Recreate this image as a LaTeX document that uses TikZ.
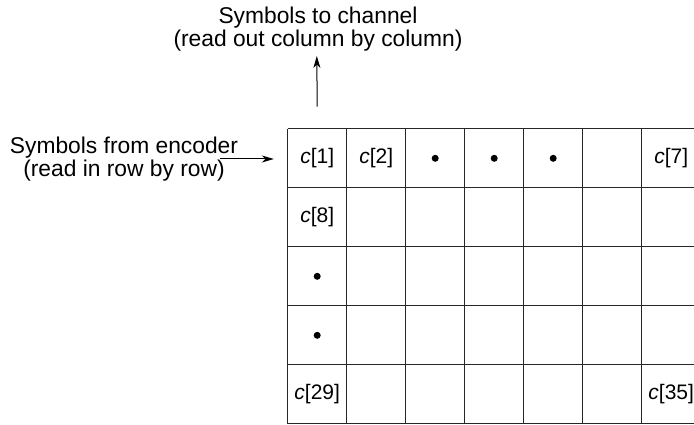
\documentclass[tikz,border=0pt]{standalone}
\usepackage{fontspec}
\setmainfont{Liberation Sans}
\usetikzlibrary{arrows.meta}
\tikzset{
  gridline/.style={line width=1.25pt, black!85},
  cell/.style={minimum width=59pt, minimum height=59pt, inner sep=0pt, font=\fontsize{21}{24}\selectfont},
  lbl/.style={align=center, inner sep=0pt, font=\fontsize{22.8}{22.5}\selectfont},
  arr/.style={line width=1pt, -{Stealth[length=12pt,width=7pt,inset=3.5pt]}},
  dotmark/.style={circle, fill=black, inner sep=0pt, minimum size=7pt}
}
\begin{document}
\begin{tikzpicture}[x=1pt,y=-1pt]
\useasboundingbox (0,0) rectangle (694,425);
\begin{scope}
\clip (0,0) rectangle (694,425);
\foreach \k in {0,...,7} \draw[gridline] (287.7+59*\k,128.8) -- (287.7+59*\k,423.8);
\foreach \j in {0,...,5} \draw[gridline] (287.7,128.8+59*\j) -- (700.7,128.8+59*\j);
\end{scope}
% cells
\node[cell] (c1) at (317.2,158.3) {\textit{c}[1]};
\node[cell] (c2) at (376.2,158.3) {\textit{c}[2]};
\node[cell] (c3) at (435.2,158.3) {};
\node[cell] (c4) at (494.2,158.3) {};
\node[cell] (c5) at (553.2,158.3) {};
\node[cell] (c7) at (671.2,158.3) {\textit{c}[7]};
\node[cell] (c8) at (317.2,217.3) {\textit{c}[8]};
\node[cell] (c15) at (317.2,276.3) {};
\node[cell] (c22) at (317.2,335.3) {};
\node[cell] (c29) at (317.2,394.3) {\textit{c}[29]};
\node[cell] (c35) at (671.2,394.3) {\textit{c}[35]};
\node[dotmark] (d3) at (c3.center) {};
\node[dotmark] (d4) at (c4.center) {};
\node[dotmark] (d5) at (c5.center) {};
\node[dotmark] (d15) at (c15.center) {};
\node[dotmark] (d22) at (c22.center) {};
% labels
\node[lbl] (outlbl) at (318,29) {Symbols to channel\\(read out column by column)};
\node[lbl] (inlbl) at (124,159) {Symbols from encoder\\(read in row by row)};
% arrows
\coordinate (instart) at (220,159);
\coordinate (outtip) at (316.8,56);
\draw[arr] (instart) -- ([xshift=-13.7pt]c1.west |- instart);
\draw[arr] ([yshift=22pt]c1.north) -- (outtip);
\end{tikzpicture}
\end{document}
